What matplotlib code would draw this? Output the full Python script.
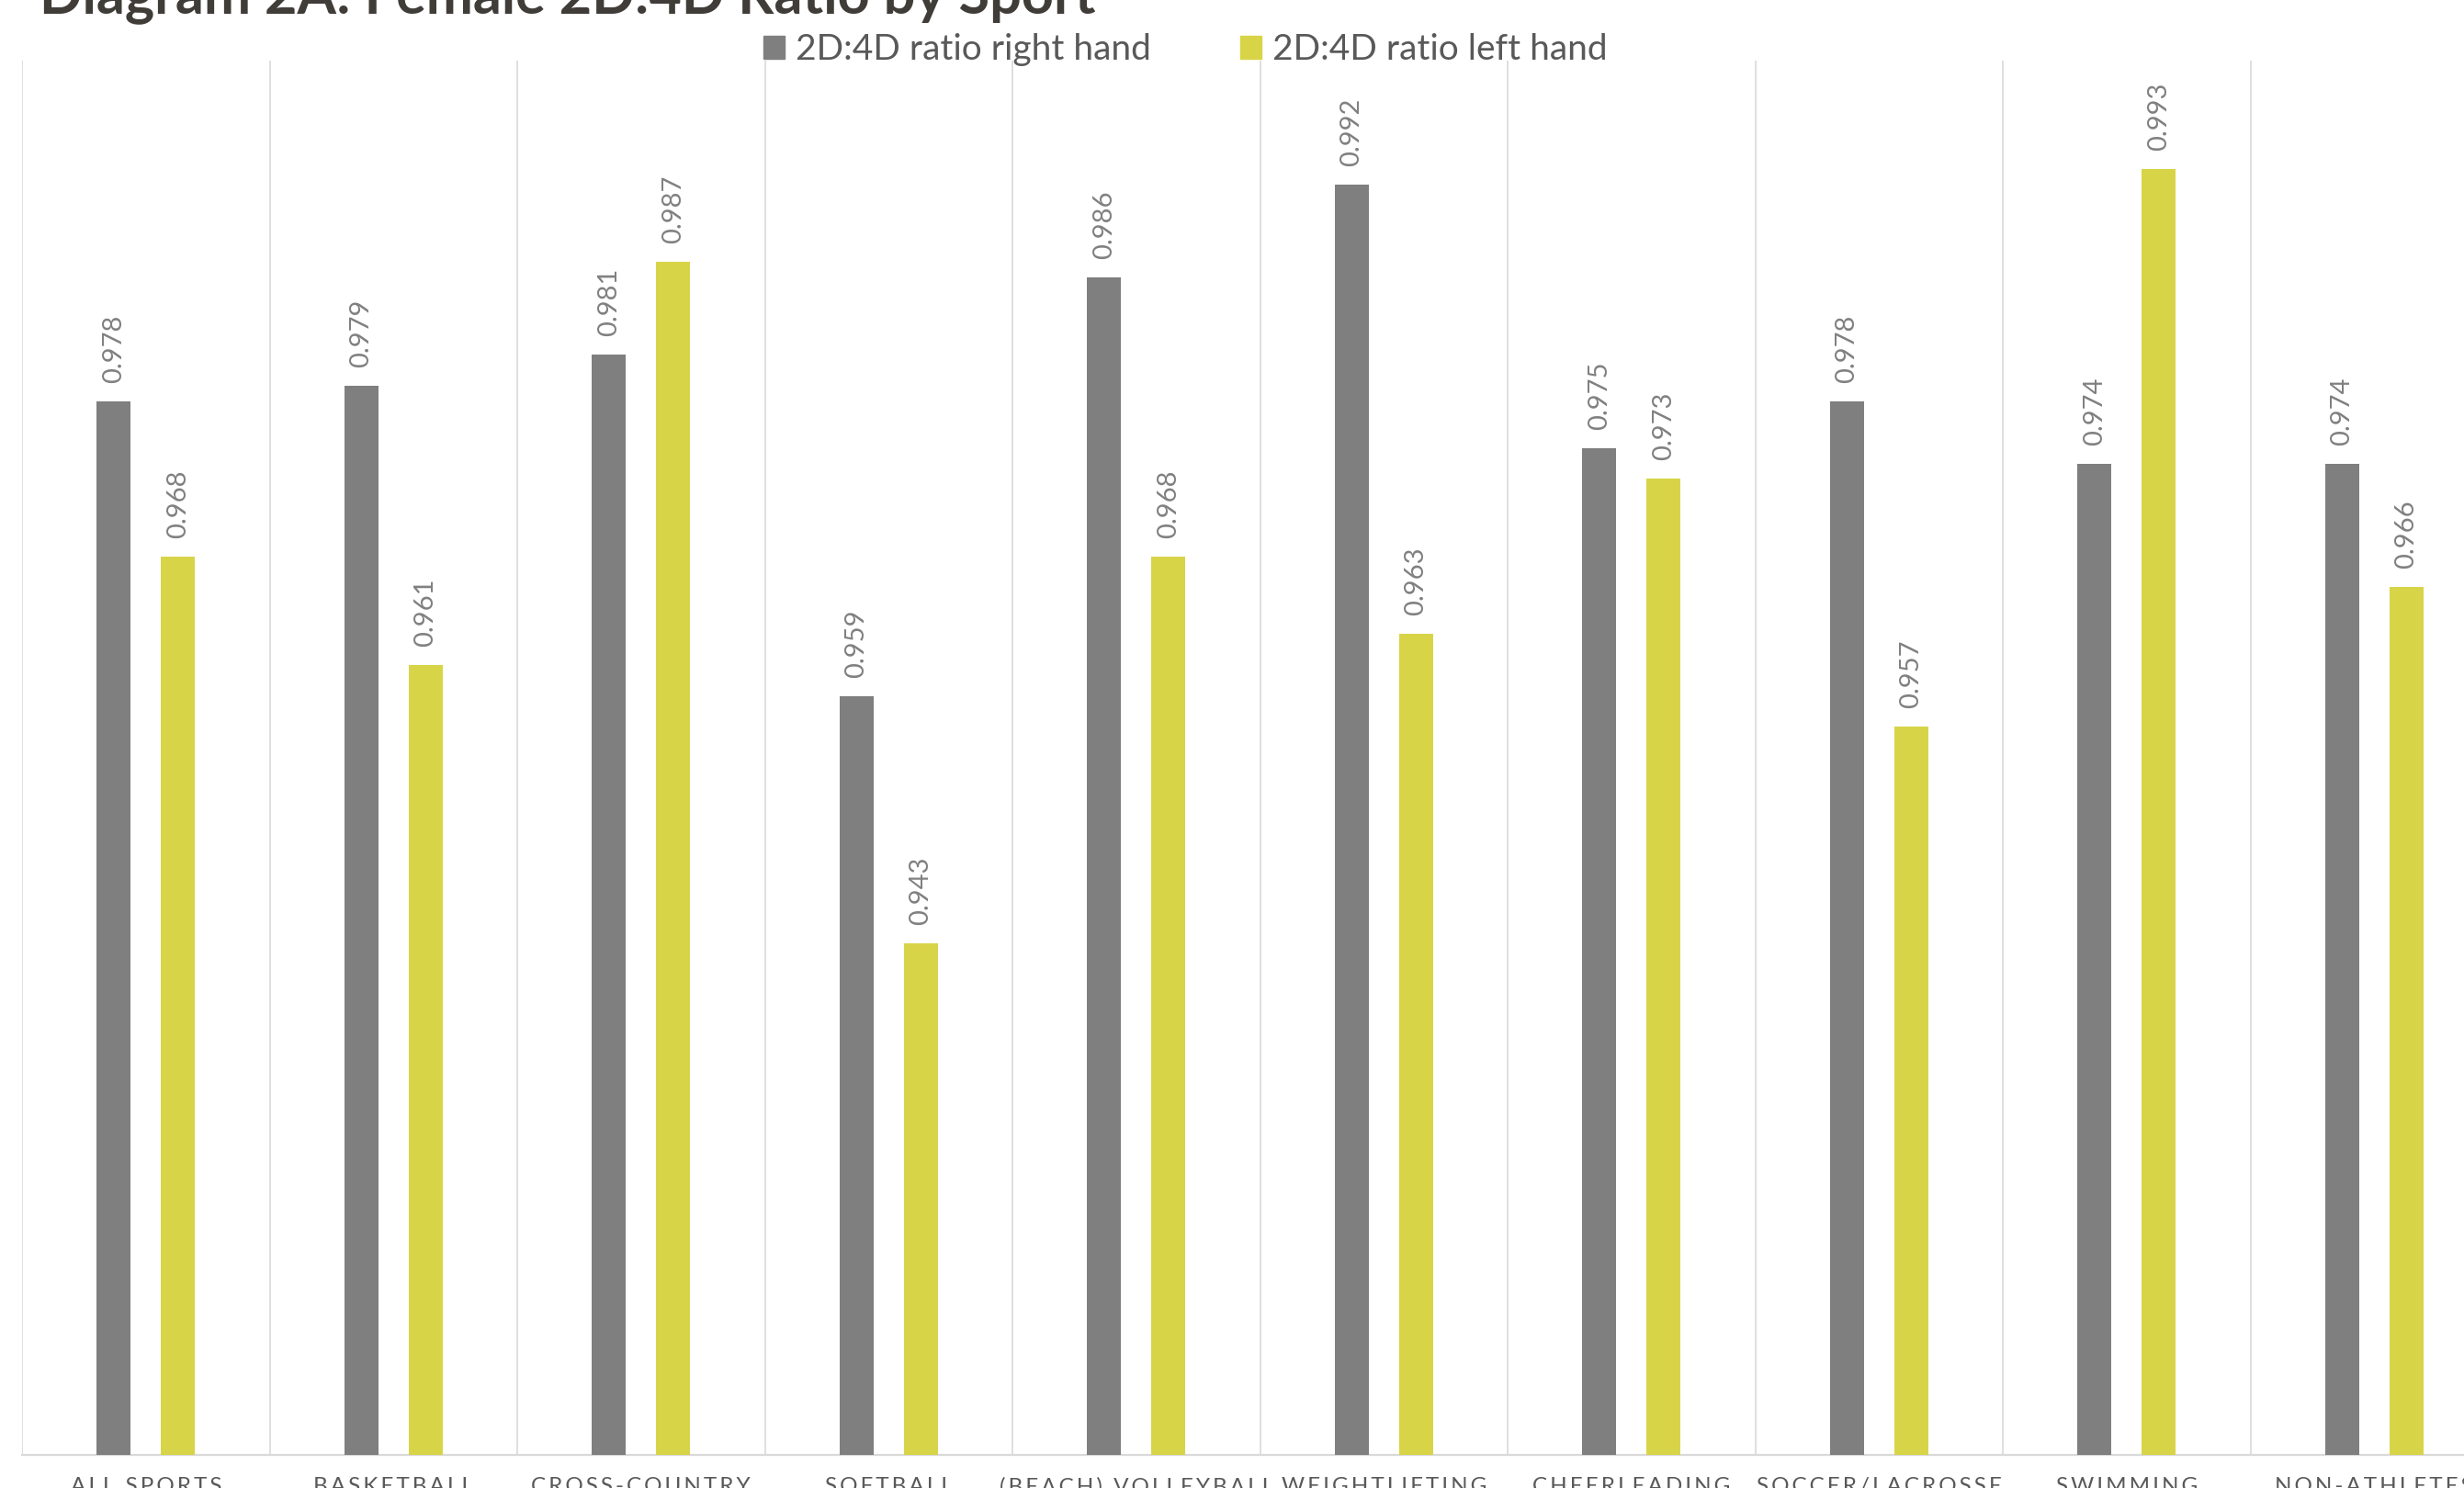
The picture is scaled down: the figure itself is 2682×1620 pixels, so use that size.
import numpy as np
from matplotlib import pyplot as plt
from matplotlib.patches import Patch

plt.rcParams['font.family'] = ['Lato', 'DejaVu Sans']

# data
sports = ['ALL SPORTS', 'BASKETBALL', 'CROSS-COUNTRY', 'SOFTBALL', '(BEACH) VOLLEYBALL',
          'WEIGHTLIFTING', 'CHEERLEADING', 'SOCCER/LACROSSE', 'SWIMMING', 'NON-ATHLETES']
right_hand = [0.978, 0.979, 0.981, 0.959, 0.986, 0.992, 0.975, 0.978, 0.974, 0.974]
left_hand = [0.968, 0.961, 0.987, 0.943, 0.968, 0.963, 0.973, 0.957, 0.993, 0.966]
series_names = ['2D:4D ratio right hand', '2D:4D ratio left hand']

grey = '#7F7F7F'
yellow = '#D8D448'


def spaced(s):
    # excel style letter spacing on the category labels (thin spaces)
    return '\u2009'.join(s)


fig = plt.figure(figsize=(26.82, 16.2), dpi=100)
# axes runs a bit past the right edge like the cropped original
ax = fig.add_axes([0.00895, 0.02222, 1.00485, 0.93704])

x = np.arange(len(sports))
w = 0.136
off = 0.13
b1 = ax.bar(x - off, right_hand, w, color=grey, zorder=3)
b2 = ax.bar(x + off, left_hand, w, color=yellow, zorder=3)

# rotated value labels above bars
for bars, vals in [(b1, right_hand), (b2, left_hand)]:
    for bar, v in zip(bars, vals):
        ax.annotate('%.3f' % v, (bar.get_x() + bar.get_width() / 2, v),
                    xytext=(0, 20), textcoords='offset pixels',
                    rotation=90, ha='center', va='bottom',
                    fontsize=21, color='#808080')

ax.set_xlim(-0.5, len(sports) - 0.5)
ax.set_ylim(0.91, 1.0)
ax.set_yticks([])
ax.set_xticks(x)
ax.set_xticklabels([spaced(s) for s in sports], fontsize=17.5, color='#595959')
ax.set_xticks(np.arange(-0.5, len(sports), 1.0), minor=True)
ax.tick_params(axis='x', which='both', length=0, pad=17)
ax.grid(which='minor', axis='x', color='#D9D9D9', linewidth=1.2, zorder=0)

for s in ['top', 'right', 'left']:
    ax.spines[s].set_visible(False)
ax.spines['bottom'].set_color('#D9D9D9')
ax.spines['bottom'].set_linewidth(1.6)

handles = [Patch(color=grey), Patch(color=yellow)]
fig.legend(handles, series_names, loc='center', bbox_to_anchor=(0.481, 1 - 54 / 1620),
           ncol=2, frameon=False, fontsize=28, labelcolor='#595959',
           handlelength=0.6, handleheight=0.6, handletextpad=0.3, columnspacing=2.5)

fig.text(43 / 2682, 1 - 14 / 1620, 'Diagram 2A: Female 2D:4D Ratio by Sport',
         fontsize=44, fontweight='bold', color='#403D39', ha='left', va='baseline')

fig.savefig('out.png', dpi=100)
